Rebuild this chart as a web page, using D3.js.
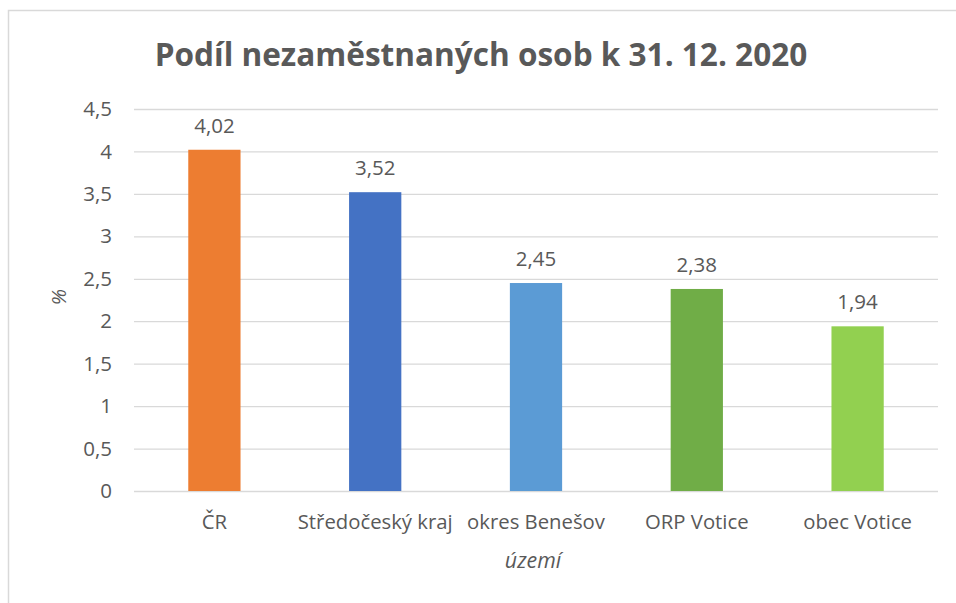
<!DOCTYPE html>
<html><head><meta charset="utf-8">
<script src="https://cdn.jsdelivr.net/npm/d3@7"></script>
<style>html,body{margin:0;padding:0;background:#fff;}svg{display:block;}</style>
</head><body>
<script>
const categories = ["ČR", "Středočeský kraj", "okres Benešov", "ORP Votice", "obec Votice"];
const values = [4.02, 3.52, 2.45, 2.38, 1.94];
const colors = ["#ED7D31", "#4472C4", "#5B9BD5", "#70AD47", "#92D050"];
const yTicks = [0, 0.5, 1, 1.5, 2, 2.5, 3, 3.5, 4, 4.5];
const title = "Podíl nezaměstnaných osob k 31. 12. 2020";
const xTitle = "území";
const yTitle = "%";

(function () {
const W = 956, H = 603;
const font = "'Open Sans', Lato, sans-serif";
const txt = "#595959";
const svg = d3.select("body").append("svg").attr("width", W).attr("height", H);
svg.append("rect").attr("width", W).attr("height", H).attr("fill", "#fff");
svg.append("rect").attr("x", 8.5).attr("y", 10.5).attr("width", W + 20).attr("height", H + 20)
  .attr("fill", "none").attr("stroke", "#d9d9d9").attr("stroke-width", 1.5);

// fit label font size to reference width
const probe = svg.append("text").attr("font-family", font).attr("font-size", 20).text(categories[1]);
const fs = 20 * 155 / probe.node().getComputedTextLength();
probe.remove();
const fn = 20.5; // numeric labels

const pL = 134, pR = 938, pT = 109, pB = 491;
const x = d3.scaleBand().domain(categories).range([pL, pR]).paddingInner(0.675).paddingOuter(0.3375);
const y = d3.scaleLinear().domain([0, 4.5]).range([pB, pT]);
const fmt = v => String(v).replace(".", ",");

const yAxis = d3.axisLeft(y).tickValues(yTicks).tickSize(-(pR - pL)).tickPadding(22).tickFormat(fmt);
const ga = svg.append("g").attr("transform", `translate(${pL},0)`).call(yAxis);
ga.select(".domain").remove();
ga.selectAll(".tick line").attr("stroke", "#d9d9d9").attr("stroke-width", 1.3);
ga.selectAll(".tick text").attr("fill", txt).attr("font-family", font).attr("font-size", fn);

svg.selectAll("rect.bar").data(categories).enter().append("rect").attr("class", "bar")
  .attr("x", d => x(d)).attr("width", x.bandwidth())
  .attr("y", (d, i) => y(values[i])).attr("height", (d, i) => pB - y(values[i]))
  .attr("fill", (d, i) => colors[i]);

svg.selectAll("text.val").data(categories).enter().append("text").attr("class", "val")
  .attr("x", d => x(d) + x.bandwidth() / 2).attr("y", (d, i) => y(values[i]) - 17)
  .attr("text-anchor", "middle").attr("fill", txt).attr("font-family", font).attr("font-size", fn)
  .text((d, i) => fmt(values[i]));

const xAxis = d3.axisBottom(x).tickSize(0).tickPadding(0);
const gx = svg.append("g").attr("transform", `translate(0,${pB})`).call(xAxis);
gx.select(".domain").remove();
gx.selectAll(".tick text").attr("fill", txt).attr("font-family", font).attr("font-size", fs)
  .attr("dy", null).attr("y", 38);

svg.append("text").attr("x", (pL + pR) / 2 - 3).attr("y", 568).attr("text-anchor", "middle")
  .attr("fill", txt).attr("font-family", font).attr("font-size", fs + 1).attr("font-style", "italic").text(xTitle);
svg.append("text").attr("transform", "translate(66,297) rotate(-90)").attr("text-anchor", "middle")
  .attr("fill", txt).attr("font-family", font).attr("font-size", fn).attr("font-style", "italic").text(yTitle);

const t = svg.append("text").attr("x", 481).attr("y", 66).attr("text-anchor", "middle")
  .attr("fill", txt).attr("font-family", font).attr("font-weight", "bold").attr("font-size", 30).text(title);
const tw = t.node().getComputedTextLength();
t.attr("font-size", 30 * 653 / tw);
})();
</script>
</body></html>
